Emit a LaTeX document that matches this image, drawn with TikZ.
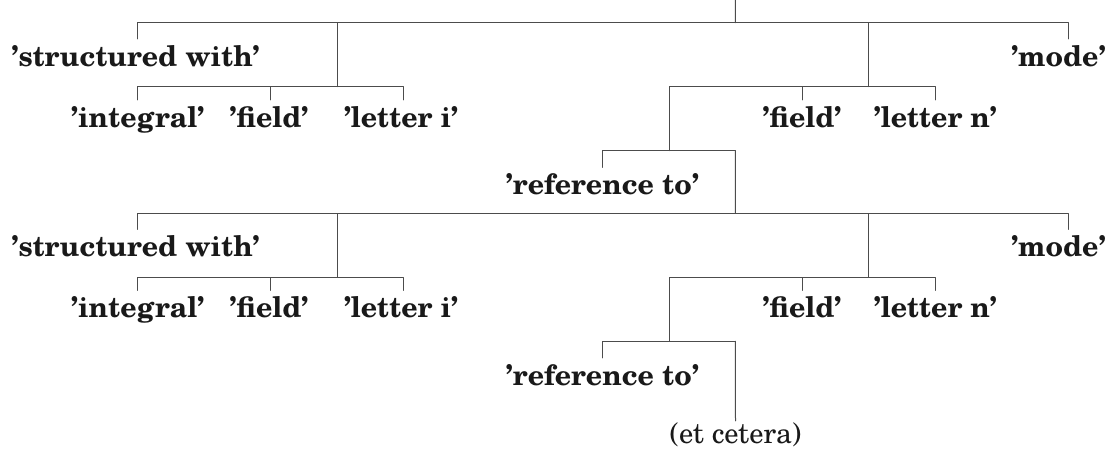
\documentclass[tikz,border=0pt]{standalone}
\usepackage{fontspec}
\setmainfont{TeX Gyre Schola}
\begin{document}
\begin{tikzpicture}[x=1pt, y=-1pt, line cap=round, line join=round,
	conn/.style={draw=black!70, line width=1pt},
	lbl/.style={font=\bfseries\fontsize{28.5}{32}\selectfont, text=black!90, anchor=base, inner xsep=0pt, inner ysep=6pt, text height=21pt, text depth=7pt},
	cont/.style={font=\fontsize{28.5}{32}\selectfont, text=black!90, anchor=base, inner xsep=0pt, inner ysep=6pt, text height=16pt, text depth=7pt}]
	\useasboundingbox (0,0) rectangle (1117,455);
	\coordinate (root) at (735.3,0);
	\foreach \t/\dy in {1/0,2/190.6}{
		% junctions of the bars
		\coordinate (top\t) at (735.3,22.7+\dy);
		\coordinate (js\t) at (337.3,86.7+\dy);
		\coordinate (jn\t) at (868.5,86.7+\dy);
		\coordinate (jr\t) at (669.5,150.7+\dy);
		\coordinate (jt\t) at (735.3,150.7+\dy);
		% labels
		\node[lbl] (sw\t) at (135.5,66+\dy) {'structured with'};
		\node[lbl] (mode\t) at (1058.5,66+\dy) {'mode'};
		\node[lbl] (int\t) at (137.7,127+\dy) {'integral'};
		\node[lbl] (fld\t) at (269,127+\dy) {'field'};
		\node[lbl] (let\t) at (401,127+\dy) {'letter i'};
		\node[lbl] (fldn\t) at (802,127+\dy) {'field'};
		\node[lbl] (letn\t) at (935.3,127+\dy) {'letter n'};
		\node[lbl] (ref\t) at (602.5,194.5+\dy) {'reference to'};
		% bars
		\draw[conn] ([xshift=2pt]sw\t.north) |- (top\t) -| ([xshift=9.5pt]mode\t.north);
		\draw[conn] (top\t) -| (js\t) (top\t) -| (jn\t);
		\draw[conn] (int\t.north) |- (js\t) -| ([xshift=2pt]let\t.north) (js\t) -| ([xshift=1pt]fld\t.north);
		\draw[conn] (jr\t) |- (jn\t) -| (letn\t.north) (jn\t) -| (fldn\t.north);
		\draw[conn] (ref\t.north) |- (jt\t);
	}
	\node[cont] (etc) at (735.5,443) {(et cetera)};
	\draw[conn] (root) -- (top1) (jt1) -- (top2) (jt2) -- (etc.north);
\end{tikzpicture}
\end{document}
